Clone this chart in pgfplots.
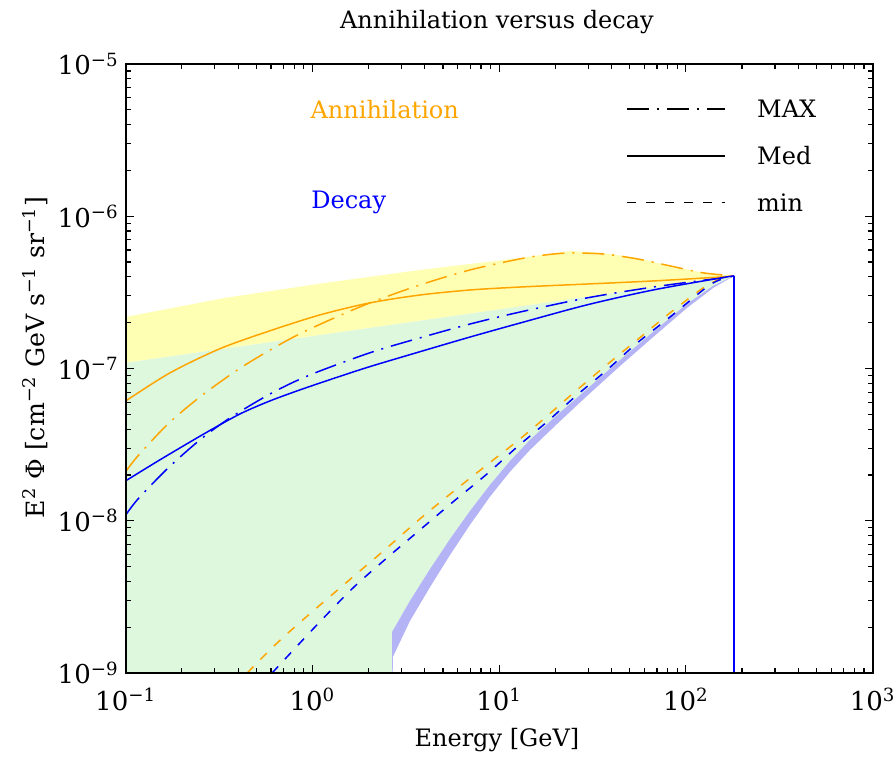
\documentclass[border=0pt]{standalone}
\usepackage{pgfplots}
\pgfplotsset{compat=1.18}
\usepackage{fontspec}
\setmainfont{DejaVu Serif}
\definecolor{myorange}{RGB}{255,165,0}
\definecolor{myblue}{RGB}{0,0,255}
\definecolor{yfill}{RGB}{255,255,179}
\definecolor{gfill}{RGB}{221,248,221}
\definecolor{lfill}{RGB}{179,179,245}
\tikzset{mydashdot/.style={dash pattern=on 11pt off 4pt on 1pt off 4pt},
         mydashed/.style={dash pattern=on 4.5pt off 5pt}}
\begin{document}
\begin{tikzpicture}
\path[use as bounding box] (-62.85pt,-41.5pt) rectangle (383.65pt,336.5pt);
\begin{axis}[
  at={(0,0)}, anchor=south west,
  scale only axis, width=373.45pt, height=304.5pt,
  xmode=log, ymode=log,
  xmin=0.1, xmax=1000, ymin=1e-9, ymax=1e-5,
  axis on top,
  axis line style={line width=1pt},
  major tick length=4pt, minor tick length=2.5pt,
  every tick/.style={black, line width=0.6pt},
  xtick={0.1,1,10,100,1000},
  xticklabels={10\textsuperscript{−1},10\textsuperscript{0},10\textsuperscript{1},10\textsuperscript{2},10\textsuperscript{3}},
  minor xtick={0.2,0.3,0.4,0.5,0.6,0.7,0.8,0.9,2,3,4,5,6,7,8,9,20,30,40,50,60,70,80,90,200,300,400,500,600,700,800,900},
  ytick={1e-9,1e-8,1e-7,1e-6,1e-5},
  yticklabels={10\textsuperscript{−9},10\textsuperscript{−8},10\textsuperscript{−7},10\textsuperscript{−6},10\textsuperscript{−5}},
  minor ytick={2e-9,3e-9,4e-9,5e-9,6e-9,7e-9,8e-9,9e-9,2e-8,3e-8,4e-8,5e-8,6e-8,7e-8,8e-8,9e-8,2e-7,3e-7,4e-7,5e-7,6e-7,7e-7,8e-7,9e-7,2e-6,3e-6,4e-6,5e-6,6e-6,7e-6,8e-6,9e-6},
  tick label style={font=\fontsize{13}{15}\selectfont},
  xticklabel style={yshift=-4pt},
  title={Annihilation versus decay},
  title style={at={(axis description cs:0.497,1.069)}, anchor=center, yshift=-6pt, font=\fontsize{12}{14}\selectfont},
  xlabel={Energy [GeV]},
  xlabel style={at={(axis description cs:0.497,-0.11)}, anchor=center, font=\fontsize{12}{14}\selectfont},
  ylabel={E\textsuperscript{2} Φ [cm\textsuperscript{−2} GeV s\textsuperscript{−1} sr\textsuperscript{−1}]},
  ylabel style={at={(axis description cs:-0.1216,0.518)}, anchor=center, font=\fontsize{12.6}{14}\selectfont},
]
% annihilation band
\addplot[fill=yfill, draw=none] coordinates {
(0.1,2.18e-7) (0.34,2.91e-7) (1.169,3.65e-7) (3.77,4.44e-7) (12.94,5.32e-7) (23.97,5.92e-7) (36.06,5.74e-7) (54.8,5.32e-7) (82.3,4.72e-7) (123.6,4.25e-7) (181.2,4.06e-7) (0.1,1.09e-7)} --cycle;
% decay band
\addplot[fill=gfill, draw=none] coordinates {
(0.1,1e-9) (0.1,1.09e-7) (181.2,4.06e-7) (139.9,3.49e-7) (101.4,2.66e-7) (66.8,1.74e-7) (44.45,1.14e-7) (29.58,7.34e-8) (19.91,4.81e-8) (14.63,3.40e-8) (11.43,2.47e-8) (8.93,1.72e-8) (6.98,1.16e-8) (5.46,7.60e-9) (4.27,4.83e-9) (3.33,2.98e-9) (2.67,1.86e-9) (2.67,1e-9)} --cycle;
% lavender band
\addplot[fill=lfill, draw=none] coordinates {
(2.67,1e-9) (2.67,1.86e-9) (3.33,2.98e-9) (4.27,4.83e-9) (5.46,7.60e-9) (6.98,1.16e-8) (8.93,1.72e-8) (11.43,2.47e-8) (14.63,3.40e-8) (19.91,4.81e-8) (29.58,7.34e-8) (44.45,1.14e-7) (66.8,1.74e-7) (101.4,2.66e-7) (139.9,3.49e-7) (181.2,4.06e-7)
(139.9,3.38e-7) (101.4,2.50e-7) (66.8,1.61e-7) (44.45,1.04e-7) (29.58,6.61e-8) (19.91,4.20e-8) (14.63,2.92e-8) (11.43,2.10e-8) (8.93,1.44e-8) (6.98,9.40e-9) (5.46,5.97e-9) (4.27,3.68e-9) (3.33,2.20e-9) (2.70,1.28e-9) (2.69,1e-9)} --cycle;
% annihilation min
\addplot[myorange, line width=0.75pt, mydashed, smooth] coordinates {
(0.447,1e-9) (0.631,1.53e-9) (0.913,2.30e-9) (1.649,4.28e-9) (2.51,6.64e-9) (3.77,1.03e-8) (5.66,1.55e-8) (8.61,2.33e-8) (12.94,3.45e-8) (17.6,4.74e-8) (23.97,6.61e-8) (36.06,1.01e-7) (54.8,1.54e-7) (82.3,2.32e-7) (123.6,3.38e-7) (152.5,3.87e-7) (181.2,4.06e-7)};
% decay min
\addplot[myblue, line width=0.75pt, mydashed, smooth] coordinates {
(0.608,1e-9) (1.033,2.01e-9) (1.649,3.62e-9) (2.51,5.71e-9) (3.77,8.72e-9) (5.66,1.33e-8) (8.61,2.03e-8) (12.46,3.05e-8) (18.03,4.46e-8) (26.17,6.71e-8) (37.86,9.80e-8) (54.8,1.47e-7) (82.3,2.18e-7) (123.6,3.28e-7) (146.9,3.76e-7) (181.2,4.06e-7)};
% annihilation MAX
\addplot[myorange, line width=0.75pt, mydashdot, smooth] coordinates {
(0.1,2.10e-8) (0.1164,2.67e-8) (0.1686,4.33e-8) (0.250,6.51e-8) (0.376,9.36e-8) (0.512,1.19e-7) (0.777,1.59e-7) (1.169,2.02e-7) (2.035,2.70e-7) (3.77,3.54e-7) (6.98,4.44e-7) (12.94,5.25e-7) (17.6,5.57e-7) (23.97,5.74e-7) (36.06,5.65e-7) (54.8,5.25e-7) (82.3,4.72e-7) (123.6,4.25e-7) (181.2,4.06e-7)};
% decay MAX
\addplot[myblue, line width=0.75pt, mydashdot, smooth] coordinates {
(0.1,1.09e-8) (0.1164,1.39e-8) (0.1686,2.22e-8) (0.250,3.40e-8) (0.362,4.74e-8) (0.608,6.92e-8) (0.971,9.08e-8) (2.035,1.27e-7) (3.77,1.59e-7) (6.98,1.96e-7) (12.94,2.35e-7) (29.58,2.91e-7) (66.8,3.43e-7) (152.5,3.93e-7) (181.2,4.06e-7)};
% annihilation Med
\addplot[myorange, line width=0.75pt, smooth] coordinates {
(0.1,6.12e-8) (0.1726,9.36e-8) (0.320,1.35e-7) (0.593,1.77e-7) (1.099,2.25e-7) (2.035,2.70e-7) (3.77,3.04e-7) (6.98,3.28e-7) (12.94,3.43e-7) (29.58,3.59e-7) (66.8,3.76e-7) (152.5,3.99e-7) (181.2,4.06e-7)};
% decay Med
\addplot[myblue, line width=0.75pt, smooth] coordinates {
(0.1,1.83e-8) (0.149,2.47e-8) (0.2265,3.35e-8) (0.312,4.20e-8) (0.420,5.11e-8) (0.593,6.13e-8) (0.858,7.24e-8) (1.321,8.67e-8) (2.035,1.03e-7) (3.77,1.29e-7) (6.98,1.61e-7) (12.94,1.99e-7) (29.58,2.62e-7) (66.8,3.28e-7) (152.5,3.93e-7) (181.2,4.06e-7)};
% cutoff
\addplot[myblue, line width=0.9pt] coordinates {(181.2,4.06e-7) (181.2,1e-9)};
% labels and legend
\node[anchor=west, inner sep=0pt, text=myorange, font=\fontsize{12}{14}\selectfont] at (axis description cs:0.247,0.9245) {Annihilation};
\node[anchor=west, inner sep=0pt, text=myblue, font=\fontsize{12}{14}\selectfont] at (axis description cs:0.248,0.773) {Decay};
\draw[black, line width=0.75pt, mydashdot] (axis description cs:0.6713,0.926) -- ++(49pt,0pt);
\draw[black, line width=0.75pt] (axis description cs:0.6713,0.849) -- ++(49pt,0pt);
\draw[black, line width=0.75pt, mydashed] (axis description cs:0.6713,0.773) -- ++(49pt,0pt);
\node[anchor=west, inner sep=0pt, font=\fontsize{12}{14}\selectfont] at (axis description cs:0.845,0.926) {MAX};
\node[anchor=west, inner sep=0pt, font=\fontsize{12}{14}\selectfont] at (axis description cs:0.845,0.849) {Med};
\node[anchor=west, inner sep=0pt, font=\fontsize{12}{14}\selectfont] at (axis description cs:0.845,0.773) {min};
\end{axis}
\end{tikzpicture}
\end{document}
